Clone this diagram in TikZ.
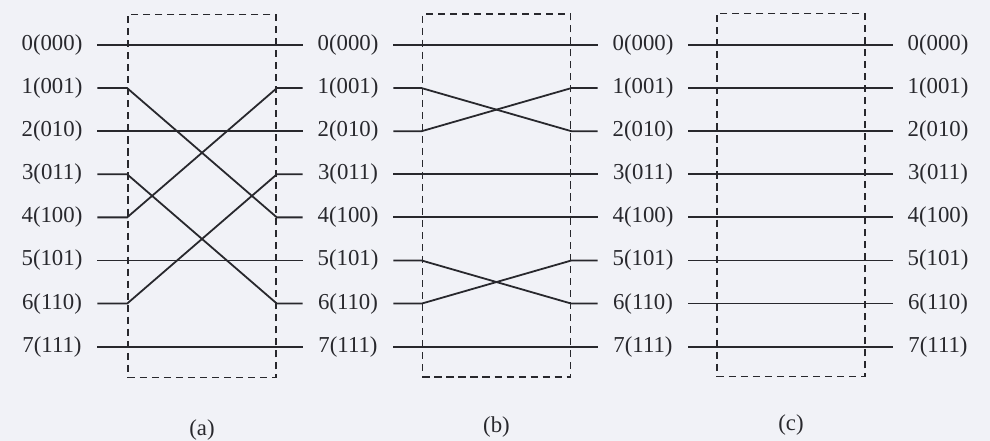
\documentclass[tikz,border=0pt]{standalone}
\usepackage{fontspec}
\setmainfont{Liberation Serif}
\usetikzlibrary{positioning}
\definecolor{scanbg}{RGB}{241,242,247}
\definecolor{wirecol}{RGB}{40,40,45}
\tikzset{
  portlabel/.style={
    minimum width=1.5cm,
    inner sep=0pt,
    align=center,
    text=wirecol,
    font=\fontsize{10.8}{12}\selectfont
  },
  stagebox/.style={
    draw=wirecol,
    dash pattern=on 3.4pt off 2.3pt,
    line width=0.7pt,
    minimum width=2.47cm,
    minimum height=6.05cm,
    inner sep=0pt
  },
  caption/.style={
    text=wirecol,
    font=\fontsize{10.8}{12}\selectfont
  },
  wire/.style={draw=wirecol, line width=0.85pt}
}

\begin{document}
\begin{tikzpicture}[x=0.01667cm, y=-0.01667cm]
  \useasboundingbox[fill=scanbg] (0,0) rectangle (990,441);

  \foreach \col/\xc in {0/52, 1/348, 2/643, 3/938}
    \foreach \i/\bits in {0/000, 1/001, 2/010, 3/011, 4/100, 5/101, 6/110, 7/111}
      \node[portlabel] (lab\col-\i) at (\xc, 45+43.1*\i) {\i(\bits)};

  \node[stagebox] (boxa) at (202,196) {};
  \node[stagebox] (boxb) at (496.5,195.5) {};
  \node[stagebox] (boxc) at (791,195) {};

  \foreach \s/\t in {0/0, 1/4, 2/2, 3/6, 4/1, 5/5, 6/3, 7/7}
    \draw[wire] (lab0-\s.east) -- (lab0-\s.east -| boxa.west)
      -- (lab1-\t.west -| boxa.east) -- (lab1-\t.west);
  \foreach \s/\t in {0/0, 1/2, 2/1, 3/3, 4/4, 5/6, 6/5, 7/7}
    \draw[wire] (lab1-\s.east) -- (lab1-\s.east -| boxb.west)
      -- (lab2-\t.west -| boxb.east) -- (lab2-\t.west);
  \foreach \s in {0,...,7}
    \draw[wire] (lab2-\s.east) -- (lab3-\s.west);

  \node[caption, below=0.56cm of boxa] (capa) {(a)};
  \node[caption, below=0.52cm of boxb] (capb) {(b)};
  \node[caption, below=0.5cm of boxc] (capc) {(c)};
\end{tikzpicture}
\end{document}
